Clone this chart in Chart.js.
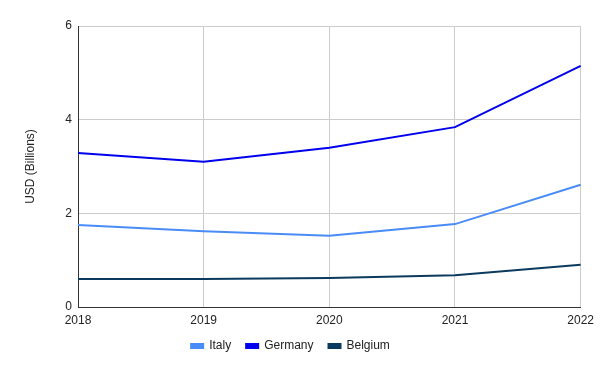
<!DOCTYPE html>
<html>
<head>
<meta charset="utf-8">
<script src="https://cdn.jsdelivr.net/npm/chart.js@4/dist/chart.umd.min.js"></script>
<style>
  html, body { margin: 0; padding: 0; background: #fff; }
  #wrap { width: 600px; height: 371px; }
</style>
</head>
<body>
<div id="wrap"><canvas id="chart" width="600" height="371"></canvas></div>
<script>
// chart data
const years = ["2018", "2019", "2020", "2021", "2022"];
const italy = [1.75, 1.62, 1.52, 1.77, 2.61];
const germany = [3.29, 3.10, 3.40, 3.84, 5.15];
const belgium = [0.60, 0.60, 0.62, 0.68, 0.90];
const yTicks = [0, 2, 4, 6];

const FONT = "Arial, 'Liberation Sans', sans-serif";

function makeSeries(label, values, color) {
  return {
    label: label,
    data: values,
    borderColor: color,
    backgroundColor: color,
    borderWidth: 2,
    pointRadius: 0,
    tension: 0
  };
}

new Chart(document.getElementById("chart"), {
  type: "line",
  data: {
    labels: years,
    datasets: [
      makeSeries("Italy", italy, "#4a8cf7"),
      makeSeries("Germany", germany, "#0000ee"),
      makeSeries("Belgium", belgium, "#0b3a5e")
    ]
  },
  options: {
    responsive: false,
    animation: false,
    layout: { padding: { left: 0, right: 19, top: 26, bottom: 9 } },
    plugins: {
      legend: {
        position: "bottom",
        labels: {
          boxWidth: 12,
          boxHeight: 4,
          padding: 15,
          color: "#222",
          font: { family: FONT, size: 12 }
        }
      },
      tooltip: { enabled: false }
    },
    scales: {
      x: {
        offset: false,
        afterFit: (scale) => { scale.height = 18; },
        grid: { color: "#cccccc", drawTicks: false },
        border: { color: "#333", width: 1 },
        ticks: { color: "#222", padding: 6, maxRotation: 0, font: { family: FONT, size: 12 } }
      },
      y: {
        min: 0,
        max: 6,
        afterBuildTicks: (scale) => { scale.ticks = yTicks.map(v => ({ value: v })); },
        afterFit: (scale) => { scale.width = 78; },
        grid: { color: "#cccccc", drawTicks: false },
        border: { color: "#333", width: 1 },
        title: {
          display: true,
          text: "USD (Billions)",
          color: "#222",
          padding: { top: 23, bottom: 4 },
          font: { family: FONT, size: 12 }
        },
        ticks: { color: "#222", padding: 6, font: { family: FONT, size: 12 } }
      }
    }
  }
});
</script>
</body>
</html>
